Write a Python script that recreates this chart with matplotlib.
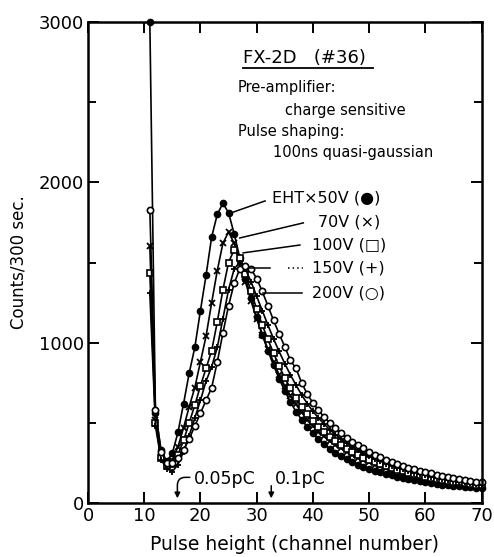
import matplotlib
matplotlib.use("Agg")
import matplotlib.pyplot as plt
from matplotlib.ticker import MultipleLocator

plt.rcParams['font.family'] = ['DejaVu Sans']

channels = list(range(11, 71))

v50 = [3000, 560, 330, 260, 310, 440, 620, 810, 970, 1200, 1420, 1660, 1800, 1870, 1810,
       1680, 1530, 1400, 1280, 1160, 1050, 950, 860, 775, 700, 630, 570, 520, 475, 435,
       398, 366, 338, 313, 291, 272, 255, 240, 226, 213, 202, 192, 182, 173, 164,
       156, 149, 142, 136, 130, 125, 120, 115, 111, 107, 103, 100, 97, 94, 92]
v70 = [1600, 520, 290, 240, 270, 350, 470, 600, 720, 880, 1040, 1250, 1450, 1620, 1690,
       1620, 1500, 1380, 1260, 1150, 1050, 960, 880, 800, 730, 670, 615, 565, 520, 480,
       445, 415, 385, 360, 340, 320, 300, 283, 268, 253, 240, 228, 217, 207, 197,
       188, 180, 172, 164, 157, 150, 144, 138, 132, 127, 122, 117, 113, 109, 105]
v100 = [1435, 500, 280, 230, 245, 300, 390, 500, 610, 730, 840, 950, 1130, 1330, 1500,
        1580, 1530, 1430, 1320, 1210, 1110, 1020, 935, 855, 780, 715, 655, 600, 555, 510,
        475, 440, 410, 385, 360, 338, 318, 300, 283, 268, 254, 241, 229, 218, 207,
        198, 189, 180, 172, 165, 158, 151, 145, 139, 133, 128, 123, 118, 114, 110]
v150 = [1310, 480, 270, 215, 195, 240, 320, 420, 530, 640, 760, 850, 970, 1150, 1330,
        1460, 1500, 1460, 1380, 1290, 1200, 1110, 1025, 945, 870, 800, 735, 675, 620, 572,
        530, 492, 458, 427, 399, 373, 350, 328, 309, 291, 275, 260, 246, 233, 221,
        210, 200, 190, 181, 173, 165, 158, 151, 145, 139, 133, 128, 123, 118, 114]
v200 = [1830, 580, 320, 250, 250, 280, 330, 400, 480, 560, 640, 720, 880, 1060, 1230,
        1370, 1460, 1480, 1460, 1400, 1320, 1230, 1140, 1055, 975, 890, 840, 750, 680, 625,
        578, 537, 500, 466, 436, 408, 383, 360, 340, 320, 302, 286, 271, 257, 244,
        232, 221, 211, 201, 192, 184, 176, 168, 161, 155, 149, 143, 138, 133, 128]

fig = plt.figure(figsize=(4.94, 5.57), dpi=100)
ax = fig.add_axes([88/494, 54/557, (481.5-88)/494, (503-22)/557])

style = dict(color='black', lw=1.2, ms=4.5, clip_on=False)
ax.plot(channels, v50, marker='o', mfc='black', mec='black', **style)
ax.plot(channels, v70, marker='x', mec='black', mew=1.3, **style)
ax.plot(channels, v100, marker='s', mfc='white', mec='black', mew=1.2, **style)
ax.plot(channels, v150, marker='+', mec='black', mew=1.3, **style)
ax.plot(channels, v200, marker='o', mfc='white', mec='black', mew=1.2, **style)

ax.set_xlim(0, 70)
ax.set_ylim(0, 3000)
ax.xaxis.set_major_locator(MultipleLocator(10))
ax.yaxis.set_major_locator(MultipleLocator(1000))
ax.yaxis.set_minor_locator(MultipleLocator(500))
ax.tick_params(which='both', direction='in', top=True, right=True, width=1.4,
               labelsize=13, pad=3)
ax.tick_params(which='major', length=8)
ax.tick_params(which='minor', length=5.5)
for s in ax.spines.values():
    s.set_linewidth(1.8)

fig.text(294/494, 1 - 545/557, 'Pulse height (channel number)', fontsize=13.5,
         ha='center', va='center')
ax.set_ylabel('Counts/300 sec.', fontsize=12, labelpad=8)

# header text block
ax.text(27.6, 2776, 'FX-2D   (#36)', fontsize=13, va='center', ha='left')
ax.plot([27.6, 50.7], [2714, 2714], color='black', lw=1.3)
ax.text(26.7, 2589, 'Pre-amplifier:', fontsize=10.5, va='center', ha='left')
ax.text(35.1, 2445, 'charge sensitive', fontsize=10.5, va='center', ha='left')
ax.text(26.7, 2314, 'Pulse shaping:', fontsize=10.5, va='center', ha='left')
ax.text(32.9, 2183, '100ns quasi-gaussian', fontsize=10.5, va='center', ha='left')

# legend labels
fs = 11.5
ax.text(32.7, 1903, 'EHT\u00d750V (\u25cf)', fontsize=fs, va='center', ha='left')
ax.text(40.9, 1753, '70V (\u00d7)', fontsize=fs, va='center', ha='left')
ax.text(39.9, 1609, '100V (\u25a1)', fontsize=fs, va='center', ha='left')
ax.text(39.9, 1466, '150V (+)', fontsize=fs, va='center', ha='left')
ax.text(39.9, 1310, '200V (\u25cb)', fontsize=fs, va='center', ha='left')

lk = dict(color='black', lw=1.1)
ax.plot([31.5, 25.9], [1884, 1815], **lk)
ax.plot([38.3, 27.0], [1747, 1653], **lk)
ax.plot([37.7, 27.6], [1609, 1560], **lk)
ax.plot([32.4, 28.8], [1466, 1466], **lk)
ax.plot([35.6, 38.3], [1466, 1466], color='black', lw=1.1, ls=(0, (1, 2)))
ax.plot([38.1, 31.1], [1310, 1310], **lk)

# charge markers
ax.text(18.8, 150, '0.05pC', fontsize=12.5, va='center', ha='left')
ax.annotate('', xy=(15.9, 12), xytext=(18.6, 160),
            arrowprops=dict(arrowstyle='-|>', color='black', lw=1.1,
                            connectionstyle='angle,angleA=180,angleB=90,rad=8',
                            mutation_scale=8))
ax.text(33.2, 150, '0.1pC', fontsize=12.5, va='center', ha='left')
ax.annotate('', xy=(32.6, 12), xytext=(32.6, 125),
            arrowprops=dict(arrowstyle='-|>', color='black', lw=1.1,
                            mutation_scale=8))

fig.savefig('out.png', dpi=100)
